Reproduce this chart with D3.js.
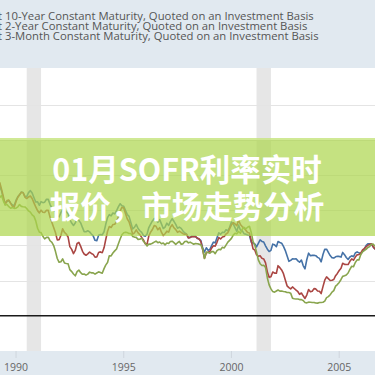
<!DOCTYPE html>
<html><head><meta charset="utf-8">
<script src="https://cdn.jsdelivr.net/npm/d3@7"></script>
<style>
html,body{margin:0;padding:0;background:#e1e9f0;}
svg{display:block;}
</style></head>
<body>
<svg id="c" width="375" height="375"></svg>
<script>
// Monthly yields, Mar 1989 .. Sep 2006 (percent)
const startMonth = "1989-03";
const gs10 = [
 9.36,9.18,8.86,8.28,8.02,8.11,8.19,8.01,7.87,7.84,
 8.21,8.47,8.59,8.79,8.76,8.48,8.47,8.75,8.89,8.72,8.39,8.08,
 8.09,7.85,8.11,8.04,8.07,8.28,8.27,7.90,7.65,7.53,7.42,7.09,
 7.03,7.34,7.54,7.48,7.39,7.26,6.84,6.59,6.42,6.59,6.87,6.77,
 6.60,6.26,5.98,5.97,6.04,5.96,5.81,5.68,5.36,5.33,5.72,5.77,
 5.75,5.97,6.48,6.97,7.18,7.10,7.30,7.24,7.46,7.74,7.96,7.81,
 7.78,7.47,7.20,7.06,6.63,6.17,6.28,6.49,6.20,6.04,5.93,5.71,
 5.65,5.81,6.27,6.51,6.74,6.91,6.87,6.64,6.83,6.53,6.20,6.30,
 6.58,6.42,6.69,6.89,6.71,6.49,6.22,6.30,6.21,6.03,5.88,5.81,
 5.54,5.57,5.65,5.64,5.65,5.50,5.46,5.34,4.81,4.53,4.83,4.65,
 4.72,5.00,5.23,5.18,5.54,5.90,5.79,5.94,5.92,6.11,6.03,6.28,
 6.66,6.52,6.26,5.99,6.44,6.10,6.05,5.83,5.80,5.74,5.72,5.24,
 5.16,5.10,4.89,5.14,5.39,5.28,5.24,4.97,4.73,4.57,4.65,5.09,
 5.04,4.91,5.28,5.21,5.16,4.93,4.65,4.26,3.87,3.94,4.05,4.03,
 4.05,3.90,3.81,3.96,3.57,3.33,3.98,4.45,4.27,4.29,4.30,4.27,
 4.15,4.08,3.83,4.35,4.72,4.73,4.50,4.28,4.13,4.10,4.19,4.23,
 4.22,4.17,4.50,4.34,4.14,4.00,4.18,4.26,4.20,4.46,4.54,4.47,
 4.42,4.57,4.72,4.99,5.11,5.11,5.09,4.88,4.72
];
const gs2 = [
 9.57,9.45,8.98,8.44,7.89,8.18,8.22,7.99,7.77,7.72,
 8.12,8.42,8.60,8.77,8.74,8.43,8.33,8.44,8.51,8.33,8.02,7.73,
 7.47,7.31,7.50,7.36,7.34,7.50,7.49,7.00,6.63,6.27,5.90,5.39,
 5.40,5.72,6.18,5.93,5.81,5.60,4.91,4.72,4.42,4.64,5.14,5.21,
 4.93,4.58,4.39,4.30,4.40,4.53,4.43,4.36,4.17,4.18,4.50,4.54,
 4.48,4.83,5.40,5.99,6.34,6.27,6.48,6.50,6.69,7.04,7.44,7.71,
 7.66,7.25,6.89,6.68,6.27,5.80,5.89,6.10,5.89,5.77,5.57,5.39,
 5.11,5.11,5.67,5.94,6.13,6.41,6.36,6.11,6.26,5.94,5.70,5.83,
 6.01,5.94,6.29,6.47,6.25,6.12,5.93,6.01,5.93,5.83,5.79,5.79,
 5.53,5.57,5.62,5.61,5.62,5.52,5.46,5.27,4.67,4.09,4.47,4.52,
 4.58,4.82,4.97,4.95,5.22,5.56,5.46,5.60,5.63,5.81,5.90,6.17,
 6.46,6.61,6.53,6.40,6.81,6.48,6.34,6.23,6.08,5.91,5.88,5.35,
 4.76,4.66,4.34,4.23,4.26,4.08,4.04,3.76,3.12,2.73,2.78,3.11,
 3.03,3.02,3.56,3.42,3.26,2.99,2.56,2.13,2.00,1.91,2.05,1.94,
 1.82,1.71,1.52,1.62,1.42,1.23,1.47,1.86,1.71,1.75,1.93,1.91,
 1.76,1.74,1.58,2.07,2.53,2.76,2.64,2.51,2.53,2.58,2.85,3.01,
 3.22,3.38,3.73,3.65,3.64,3.64,3.87,4.04,3.95,4.17,4.33,4.35,
 4.45,4.68,4.77,4.90,5.00,5.07,5.12,4.90,4.73
];
const gs3m = [
 8.85,8.41,8.53,8.15,7.88,7.90,7.75,7.64,7.69,7.63,
 7.64,7.74,7.90,7.77,7.74,7.73,7.62,7.45,7.36,7.17,7.06,6.74,
 6.22,5.94,5.91,5.65,5.46,5.57,5.58,5.33,5.22,4.99,4.56,4.07,
 3.80,3.84,4.04,3.75,3.72,3.70,3.28,3.14,2.97,2.84,3.14,3.25,
 3.06,2.95,2.97,2.89,2.96,3.10,3.05,3.05,2.96,3.04,3.12,3.08,
 3.02,3.35,3.60,3.78,4.27,4.25,4.46,4.61,4.75,5.10,5.45,5.76,
 5.90,5.94,5.91,5.84,5.85,5.64,5.59,5.57,5.43,5.44,5.52,5.29,
 5.15,4.96,5.10,5.09,5.15,5.23,5.30,5.19,5.24,5.12,5.17,5.04,
 5.17,5.14,5.28,5.30,5.20,5.07,5.19,5.28,5.08,5.11,5.28,5.30,
 5.18,5.23,5.16,5.08,5.14,5.12,5.09,5.04,4.74,4.07,4.53,4.50,
 4.45,4.56,4.57,4.41,4.63,4.72,4.69,4.87,4.82,5.02,5.23,5.36,
 5.50,5.73,5.86,5.82,5.99,5.86,6.14,6.28,6.18,6.29,6.36,5.94,
 5.29,5.01,4.54,3.97,3.70,3.57,3.59,3.44,2.69,2.20,1.91,1.72,
 1.68,1.76,1.83,1.75,1.76,1.73,1.71,1.65,1.66,1.61,1.25,1.21,
 1.19,1.19,1.15,1.15,1.09,0.94,0.92,0.97,0.96,0.94,0.95,0.91,
 0.90,0.94,0.95,0.96,1.04,1.29,1.36,1.50,1.68,1.79,2.11,2.22,
 2.37,2.58,2.80,2.84,2.90,3.04,3.29,3.52,3.49,3.79,3.97,3.97,
 4.34,4.54,4.63,4.72,4.84,4.92,5.08,5.09,4.93
];
const recessions = [["1990-07-01","1991-03-01"],["2001-03-01","2001-11-01"]];
const xTicks = ["1990","1995","2000","2005"];
const yGrid = [2.5,5,7.5,10,12.5,15];
const legendPrefix = "Market Yield on U.S. Treasury Securities at ";
const legendLines = [
 "10-Year Constant Maturity, Quoted on an Investment Basis",
 "2-Year Constant Maturity, Quoted on an Investment Basis",
 "3-Month Constant Maturity, Quoted on an Investment Basis"
];
const seriesColors = ["#4572a7","#aa4643","#89a54e"];
const bannerLines = ["01月SOFR利率实时","报价，市场走势分析"];

const svg = d3.select("#c");
const W = 375, H = 375;
const plotTop = 68, plotBottom = 351;

const parse = d3.utcParse("%Y-%m-%d");
const start = d3.utcParse("%Y-%m")(startMonth);
const months = d3.utcMonth.range(start, d3.utcMonth.offset(start, gs10.length));

const x = d3.scaleUtc()
  .domain([parse("1989-04-04"), parse("2006-08-31")])
  .range([0, W]);
const y = d3.scaleLinear().domain([-2.5, 17.6]).range([plotBottom, plotTop]);

// background bands
svg.append("rect").attr("x",0).attr("y",0).attr("width",W).attr("height",H).attr("fill","#e1e9f0");
svg.append("rect").attr("x",0).attr("y",plotTop).attr("width",W).attr("height",plotBottom-plotTop).attr("fill","#ffffff");

// recession bars
svg.append("g").selectAll("rect").data(recessions).join("rect")
  .attr("x", d => x(parse(d[0])))
  .attr("width", d => x(parse(d[1])) - x(parse(d[0])))
  .attr("y", plotTop).attr("height", plotBottom-plotTop)
  .attr("fill","#e6e6e6");

// grid
svg.append("g").selectAll("line").data(yGrid).join("line")
  .attr("x1",0).attr("x2",W)
  .attr("y1",d=>Math.round(y(d))+0.5).attr("y2",d=>Math.round(y(d))+0.5)
  .attr("stroke","#e4e4e4").attr("stroke-width",1);

// zero line
svg.append("line").attr("x1",0).attr("x2",W)
  .attr("y1",y(0)).attr("y2",y(0))
  .attr("stroke","#1a1a1a").attr("stroke-width",1.6);

// series
const series = [gs10, gs2, gs3m];
const line = d3.line().x((d,i)=>x(months[i])).y(d=>y(d));
svg.append("g").selectAll("path").data(series).join("path")
  .attr("d", d => line(d))
  .attr("fill","none")
  .attr("stroke",(d,i)=>seriesColors[i])
  .attr("stroke-width",1.6)
  .attr("stroke-linejoin","round");

// x axis ticks and labels
const xAxisG = svg.append("g");
xTicks.forEach(t => {
  const xv = x(d3.utcParse("%Y")(t));
  xAxisG.append("line").attr("x1",xv).attr("x2",xv).attr("y1",plotBottom).attr("y2",plotBottom+7)
    .attr("stroke","#cfd6dd").attr("stroke-width",1);
  xAxisG.append("text").attr("x",xv).attr("y",370.5).attr("text-anchor","middle")
    .attr("font-family","'Open Sans', sans-serif").attr("font-size",10.5)
    .attr("fill","#666").text(t);
});

// legend text (cropped at left, as in the reference)
const lg = svg.append("g").attr("font-family","'Open Sans', sans-serif").attr("font-size",11.3).attr("fill","#555");
legendLines.forEach((t,i)=>{
  const yy = 20 + i*9.8;
  const txt = lg.append("text").attr("y",yy);
  const pre = txt.append("tspan").text(legendPrefix);
  txt.append("tspan").text(t);
  const w = pre.node().getComputedTextLength();
  txt.attr("x", 5 - w);
});

// banner
svg.append("rect").attr("x",0).attr("y",138).attr("width",W).attr("height",98)
  .attr("fill","rgba(172,214,76,0.7)");
svg.append("rect").attr("x",0).attr("y",138).attr("width",W).attr("height",2)
  .attr("fill","rgba(220,240,170,0.5)");
const bt = svg.append("g").attr("font-family","'Noto Sans CJK SC', sans-serif")
  .attr("font-weight",700).attr("font-size",30.5).attr("fill","#ffffff").attr("text-anchor","middle");
bannerLines.forEach((t,i)=>{
  bt.append("text").attr("x",187).attr("y",180.5 + i*37).text(t);
});
</script>
</body></html>
